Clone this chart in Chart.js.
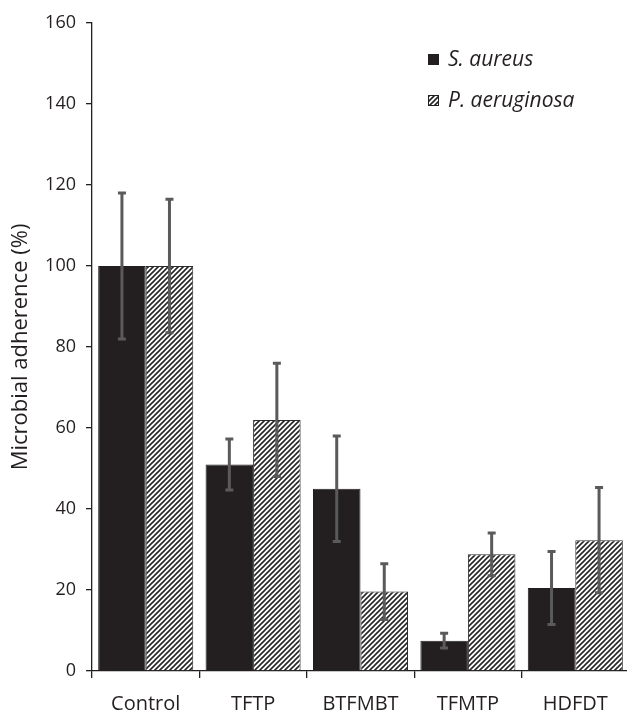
<!DOCTYPE html>
<html>
<head>
<meta charset="utf-8">
<script src="https://cdn.jsdelivr.net/npm/chart.js@4.4.1/dist/chart.umd.min.js"></script>
<style>
  html, body { margin: 0; padding: 0; background: #fff; overflow: hidden; }
  #wrap { width: 630px; height: 712px; }
</style>
</head>
<body>
<div id="wrap"><canvas id="barChart"></canvas></div>
<script>
const categories = ["Control", "TFTP", "BTFMBT", "TFMTP", "HDFDT"];
const seriesNames = ["S. aureus", "P. aeruginosa"];
const aureusValues = [100, 51, 45, 7.5, 20.5];
const aureusErrors = [18, 6.3, 13, 1.8, 9];
const aeruginosaValues = [100, 62, 19.6, 28.8, 32.3];
const aeruginosaErrors = [16.5, 14, 6.9, 5.3, 13];
const yTicks = [0, 20, 40, 60, 80, 100, 120, 140, 160];

const fontFamily = "'Open Sans', 'Noto Sans', sans-serif";

// diagonal hatch fill
const makeHatch = () => {
    var c = document.createElement('canvas');
    c.width = 5; c.height = 5;
    var g = c.getContext('2d');
    g.fillStyle = '#fff';
    g.fillRect(0, 0, 5, 5);
    g.strokeStyle = '#262626';
    g.lineWidth = 1.6;
    g.beginPath();
    g.moveTo(-1, 6); g.lineTo(6, -1);
    g.moveTo(-1, 1); g.lineTo(1, -1);
    g.moveTo(4, 6); g.lineTo(6, 4);
    g.stroke();
    return g.createPattern(c, 'repeat');
};

const errorBars = {
    id: 'errorBars',
    afterDatasetsDraw(chart) {
        var ctx = chart.ctx;
        var y = chart.scales.y;
        var errs = [aureusErrors, aeruginosaErrors];
        ctx.save();
        ctx.strokeStyle = '#5a5a5a';
        ctx.lineWidth = 3;
        chart.data.datasets.forEach((ds, di) => {
            chart.getDatasetMeta(di).data.forEach((bar, i) => {
                var v = ds.data[i], e = errs[di][i];
                var top = y.getPixelForValue(v + e);
                var bot = y.getPixelForValue(v - e);
                ctx.beginPath();
                ctx.moveTo(bar.x, top); ctx.lineTo(bar.x, bot);
                ctx.moveTo(bar.x - 4, top); ctx.lineTo(bar.x + 4, top);
                ctx.moveTo(bar.x - 4, bot); ctx.lineTo(bar.x + 4, bot);
                ctx.stroke();
            });
        });
        ctx.restore();
    }
};

const customLegend = {
    id: 'customLegend',
    afterDraw(chart) {
        var ctx = chart.ctx;
        var rows = [60, 101];
        ctx.save();
        chart.data.datasets.forEach((ds, di) => {
            var yc = rows[di];
            ctx.fillStyle = ds.backgroundColor;
            ctx.fillRect(428, yc - 6, 11, 11);
            ctx.strokeStyle = '#231f20';
            ctx.lineWidth = 1;
            ctx.strokeRect(428.5, yc - 5.5, 10, 10);
            ctx.fillStyle = '#231f20';
            ctx.font = 'italic 21px ' + fontFamily;
            ctx.textBaseline = 'middle';
            ctx.fillText(seriesNames[di], 448, yc);
        });
        ctx.restore();
    }
};

const barPlot = () => {
    var ctx = document.getElementById('barChart').getContext('2d');
    var hatch = makeHatch();

    new Chart(ctx, {
        type: 'bar',
        data: {
            labels: categories,
            datasets: [{
                label: seriesNames[0],
                data: aureusValues,
                backgroundColor: '#231f20',
                borderColor: '#231f20',
                borderWidth: 1
            }, {
                label: seriesNames[1],
                data: aeruginosaValues,
                backgroundColor: hatch,
                borderColor: '#2b2b2b',
                borderWidth: 1
            }]
        },
        options: {
            responsive: true,
            maintainAspectRatio: false,
            animation: false,
            datasets: { bar: { categoryPercentage: 0.885, barPercentage: 1 } },
            layout: { padding: { top: 23, right: 1, bottom: 0, left: 0 } },
            plugins: {
                legend: { display: false },
                tooltip: { enabled: false }
            },
            scales: {
                x: {
                    grid: { display: true, drawOnChartArea: false, offset: true, color: '#231f20', tickLength: 7, lineWidth: 1.3 },
                    border: { color: '#231f20', width: 1.3 },
                    ticks: { color: '#231f20', font: { family: fontFamily, size: 20 }, padding: 14 },
                    afterFit: (s) => { s.height = 41; }
                },
                y: {
                    min: 0,
                    max: 160,
                    afterBuildTicks: (s) => { s.ticks = yTicks.map(v => ({ value: v })); },
                    grid: { display: true, drawOnChartArea: false, color: '#231f20', tickLength: 6, lineWidth: 1.3 },
                    border: { color: '#231f20', width: 1.3 },
                    ticks: { color: '#231f20', font: { family: fontFamily, size: 18 }, padding: 10 },
                    title: {
                        display: true,
                        text: 'Microbial adherence (%)',
                        color: '#231f20',
                        font: { family: fontFamily, size: 22 },
                        padding: { top: 8, bottom: 0 }
                    },
                    afterFit: (s) => { s.width = 92; }
                }
            }
        },
        plugins: [errorBars, customLegend]
    });
};

barPlot();
</script>
</body>
</html>
